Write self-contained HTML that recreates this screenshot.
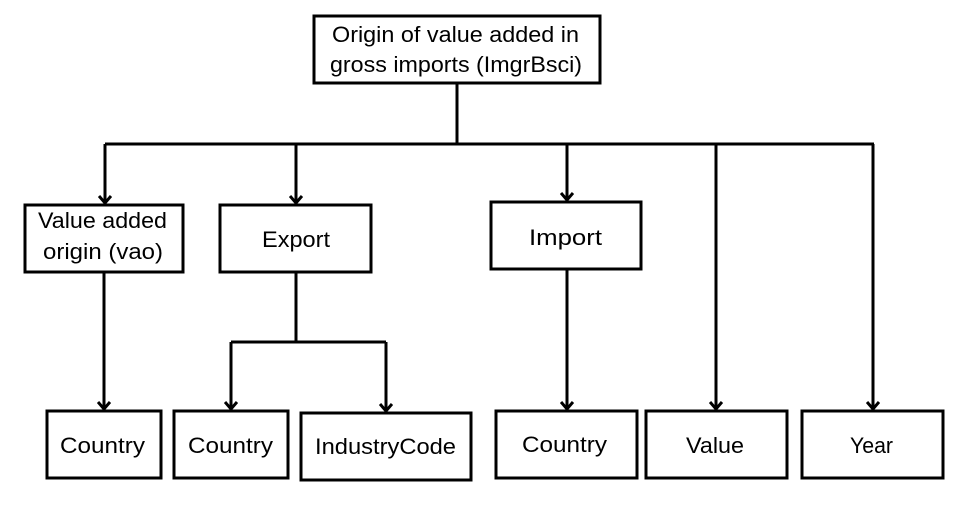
<!DOCTYPE html>
<html><head><meta charset="utf-8"><style>html,body{margin:0;padding:0;background:#fff}svg{display:block}</style></head>
<body>
<svg width="971" height="519" viewBox="0 0 971 519" xmlns="http://www.w3.org/2000/svg" font-family="Liberation Sans, sans-serif" font-size="22" fill="#000">
<defs><marker id="a" markerWidth="14" markerHeight="14" refX="7" refY="11" orient="0" markerUnits="userSpaceOnUse"><path d="M1,4 L7,11 L13,4" fill="none" stroke="#000" stroke-width="3"/></marker></defs>
<g fill="none" stroke="#000" stroke-width="3">
<rect x="314" y="16" width="286" height="67"/>
<rect x="25" y="205" width="158" height="67"/>
<rect x="220" y="205" width="151" height="67"/>
<rect x="491" y="202" width="150" height="67"/>
<rect x="47" y="411" width="114" height="67"/>
<rect x="174" y="411" width="114" height="67"/>
<rect x="301" y="413" width="170" height="67"/>
<rect x="496" y="411" width="141" height="67"/>
<rect x="646" y="411" width="141" height="67"/>
<rect x="802" y="411" width="141" height="67"/>
<path d="M457,83 V144 M105,144 H874"/>
<path d="M105,144 V203" marker-end="url(#a)"/>
<path d="M296,144 V203" marker-end="url(#a)"/>
<path d="M567,144 V200" marker-end="url(#a)"/>
<path d="M716,144 V409" marker-end="url(#a)"/>
<path d="M873,144 V409" marker-end="url(#a)"/>
<path d="M104,272 V409" marker-end="url(#a)"/>
<path d="M296,272 V342 M231,342 H386"/>
<path d="M231,342 V409" marker-end="url(#a)"/>
<path d="M386,342 V411" marker-end="url(#a)"/>
<path d="M567,269 V409" marker-end="url(#a)"/>
</g>
<text x="332" y="42" textLength="247" lengthAdjust="spacingAndGlyphs">Origin of value added in</text>
<text x="330" y="72" textLength="252" lengthAdjust="spacingAndGlyphs">gross imports (ImgrBsci)</text>
<text x="38" y="228" textLength="129" lengthAdjust="spacingAndGlyphs">Value added</text>
<text x="43" y="259" textLength="120" lengthAdjust="spacingAndGlyphs">origin (vao)</text>
<text x="262" y="247" textLength="68" lengthAdjust="spacingAndGlyphs">Export</text>
<text x="529" y="245" textLength="73" lengthAdjust="spacingAndGlyphs">Import</text>
<text x="60" y="453" textLength="85" lengthAdjust="spacingAndGlyphs">Country</text>
<text x="188" y="453" textLength="85" lengthAdjust="spacingAndGlyphs">Country</text>
<text x="315" y="454" textLength="141" lengthAdjust="spacingAndGlyphs">IndustryCode</text>
<text x="522" y="452" textLength="85" lengthAdjust="spacingAndGlyphs">Country</text>
<text x="686" y="453" textLength="58" lengthAdjust="spacingAndGlyphs">Value</text>
<text x="850" y="453" textLength="43" lengthAdjust="spacingAndGlyphs">Year</text>
</svg>
</body></html>
